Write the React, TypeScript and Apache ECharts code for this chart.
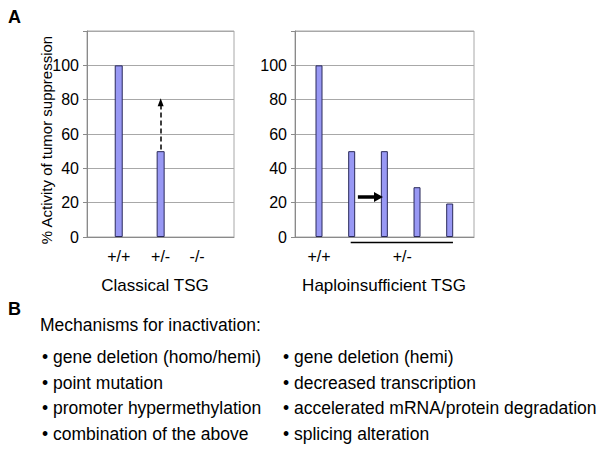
import React, { useEffect, useRef } from "react";
import * as echarts from "echarts";

const yMax = 120;
const yStep = 20;
const classicalLabels = ["+/+", "+/-", "-/-"];
const classicalPos = [0, 1, 1.87];
const classicalValues = [100, 50, 0];
const haploPos = [0, 1, 2, 3, 4];
const haploValues = [100, 50, 50, 29, 19.5];
const haploLabels = ["+/+", "+/-"];
const haploLabelPos = [0, 2.55];
const bracketRange = [0.97, 4.1];
const classicalArrow = [[1, 51], [1, 78.5]];
const haploArrow = [[1.19, 23.3], [1.82, 23.3]];
const panelTitles = ["Classical TSG", "Haploinsufficient TSG"];
const yAxisTitle = "% Activity of tumor suppression";
const panelLetters = ["A", "B"];
const mechHeader = "Mechanisms for inactivation:";
const classicalMechs = [
  "gene deletion (homo/hemi)",
  "point mutation",
  "promoter hypermethylation",
  "combination of the above",
];
const haploMechs = [
  "gene deletion (hemi)",
  "decreased transcription",
  "accelerated mRNA/protein degradation",
  "splicing alteration",
];

const FONT = '"Liberation Sans", Arial, Helvetica, sans-serif';
const GRID_COLOR = "#a8a8a8";
const AXIS_COLOR = "#8a8a8a";
const BAR_FILL = "#9898f4";
const BAR_BORDER = "#2a2a5a";

function yAxisCfg(gridIndex: number) {
  return {
    type: "value",
    gridIndex,
    min: 0,
    max: yMax,
    interval: yStep,
    axisLine: { show: true, onZero: false, lineStyle: { color: AXIS_COLOR, width: 1 } },
    axisTick: { show: true, length: 4, lineStyle: { color: AXIS_COLOR } },
    splitLine: { show: true, lineStyle: { color: GRID_COLOR, width: 1 } },
    axisLabel: {
      color: "#000",
      fontSize: 16,
      fontFamily: FONT,
      margin: 8,
      formatter: (v: number) => (v >= yMax ? "" : String(v)),
    },
  };
}

function barData(pos: number[], vals: number[]) {
  return pos.map((x, i) =>
    vals[i] === 0
      ? { value: [x, vals[i]], itemStyle: { borderWidth: 0, opacity: 0 } }
      : { value: [x, vals[i]] }
  );
}

export default function App() {
  const ref = useRef<HTMLDivElement>(null);
  useEffect(() => {
    if (!ref.current) return;
    const chart = echarts.init(ref.current, undefined, { renderer: "svg" });
    const titleStyle = { fontSize: 17, fontWeight: "normal", color: "#000", fontFamily: FONT };
    const option: any = {
      animation: false,
      backgroundColor: "#fff",
      textStyle: { fontFamily: FONT },
      title: [
        { text: panelTitles[0], left: 155, top: 277, textAlign: "center", padding: 0, textStyle: titleStyle },
        { text: panelTitles[1], left: 384, top: 277, textAlign: "center", padding: 0, textStyle: titleStyle },
      ],
      grid: [
        { left: 87, top: 31, width: 147, height: 206, show: true, borderColor: GRID_COLOR, borderWidth: 1, backgroundColor: "transparent" },
        { left: 295, top: 31, width: 179, height: 206, show: true, borderColor: GRID_COLOR, borderWidth: 1, backgroundColor: "transparent" },
      ],
      xAxis: [
        {
          type: "value",
          gridIndex: 0,
          min: -0.757,
          max: 2.75,
          axisLine: { show: true, onZero: false, lineStyle: { color: AXIS_COLOR } },
          axisTick: { show: false },
          splitLine: { show: false },
          axisLabel: {
            customValues: classicalPos,
            color: "#000",
            fontSize: 16,
            fontFamily: FONT,
            margin: 11,
            formatter: (v: number) => {
              const i = classicalPos.findIndex((p) => Math.abs(p - v) < 1e-6);
              return i >= 0 ? classicalLabels[i] : "";
            },
          },
        },
        {
          type: "value",
          gridIndex: 1,
          min: -0.735,
          max: 4.744,
          axisLine: { show: true, onZero: false, lineStyle: { color: AXIS_COLOR } },
          axisTick: { show: false },
          splitLine: { show: false },
          axisLabel: {
            customValues: haploLabelPos,
            color: "#000",
            fontSize: 16,
            fontFamily: FONT,
            margin: 11,
            formatter: (v: number) => {
              const i = haploLabelPos.findIndex((p) => Math.abs(p - v) < 1e-6);
              return i >= 0 ? haploLabels[i] : "";
            },
          },
        },
      ],
      yAxis: [yAxisCfg(0), yAxisCfg(1)],
      series: [
        {
          type: "bar",
          xAxisIndex: 0,
          yAxisIndex: 0,
          barWidth: 8,
          data: barData(classicalPos, classicalValues),
          itemStyle: { color: BAR_FILL, borderColor: BAR_BORDER, borderWidth: 1 },
          silent: true,
          markLine: {
            silent: true,
            symbol: ["none", "triangle"],
            symbolSize: [6, 8],
            label: { show: false },
            lineStyle: { color: "#000", width: 1.5, type: [5, 3] },
            data: [[{ coord: classicalArrow[0] }, { coord: classicalArrow[1] }]],
          },
        },
        {
          type: "bar",
          xAxisIndex: 1,
          yAxisIndex: 1,
          barWidth: 7,
          data: barData(haploPos, haploValues),
          itemStyle: { color: BAR_FILL, borderColor: BAR_BORDER, borderWidth: 1 },
          silent: true,
          markLine: {
            silent: true,
            symbol: ["none", "triangle"],
            symbolSize: [10, 9],
            label: { show: false },
            lineStyle: { color: "#000", width: 3.5, type: "solid" },
            data: [[{ coord: haploArrow[0] }, { coord: haploArrow[1] }]],
          },
        },
      ],
    };
    chart.setOption(option);

    const x0 = chart.convertToPixel({ xAxisIndex: 1 } as any, bracketRange[0]) as number;
    const x1 = chart.convertToPixel({ xAxisIndex: 1 } as any, bracketRange[1]) as number;
    const yBase = chart.convertToPixel({ yAxisIndex: 1 } as any, 0) as number;

    const txt = (text: string, x: number, y: number, size: number, weight = "normal") => ({
      type: "text",
      x,
      y,
      silent: true,
      style: {
        text,
        fill: "#000",
        fontSize: size,
        fontWeight: weight,
        fontFamily: FONT,
        verticalAlign: "middle",
        align: "left",
      },
    });

    const rowsY = [357, 382.5, 408, 434];
    const graphic: any[] = [
      txt(panelLetters[0], 8, 17, 18, "bold"),
      txt(panelLetters[1], 8, 309, 18, "bold"),
      {
        type: "text",
        x: 46.5,
        y: 140,
        rotation: Math.PI / 2,
        silent: true,
        style: {
          text: yAxisTitle,
          fill: "#000",
          fontSize: 15,
          fontFamily: FONT,
          align: "center",
          verticalAlign: "middle",
        },
      },
      txt(mechHeader, 40, 325, 17.5),
      ...classicalMechs.map((m, i) => txt("\u2022 " + m, 42, rowsY[i], 17.5)),
      ...haploMechs.map((m, i) => txt("\u2022 " + m, 283, rowsY[i], 17.5)),
      {
        type: "line",
        silent: true,
        shape: { x1: x0, y1: yBase + 5.5, x2: x1, y2: yBase + 5.5 },
        style: { stroke: "#000", lineWidth: 1.5 },
      },
    ];
    chart.setOption({ graphic });

    return () => chart.dispose();
  }, []);
  return (
    <div
      ref={ref}
      style={{ position: "absolute", left: 0, top: 0, width: 602, height: 449 }}
    />
  );
}
